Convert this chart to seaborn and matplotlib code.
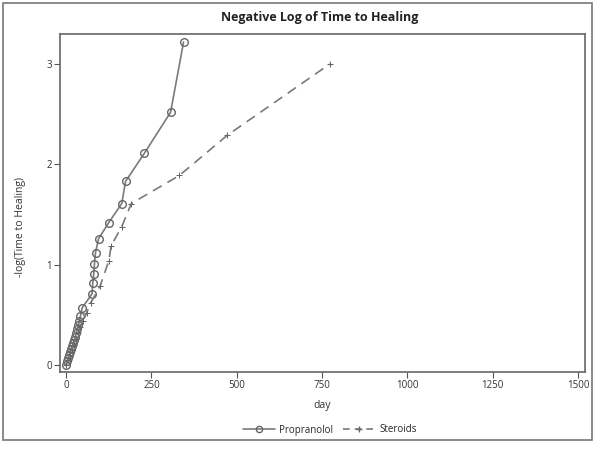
import matplotlib
matplotlib.use("Agg")
import matplotlib.pyplot as plt
import seaborn as sns
import pandas as pd
from matplotlib.patches import Rectangle
from matplotlib.lines import Line2D

sns.set_theme(style="white")
plt.rcParams['font.family'] = ['Open Sans', 'DejaVu Sans']

prop_day = [0, 3, 6, 9, 12, 15, 18, 21, 24, 27, 30, 33, 36, 39, 42, 47,
            76, 78, 81, 83, 86, 95, 125, 163, 174, 229, 306, 344]
prop_val = [0.0, 0.04, 0.07, 0.10, 0.13, 0.16, 0.19, 0.22, 0.25, 0.28, 0.32, 0.36, 0.40, 0.44, 0.49, 0.57,
            0.71, 0.82, 0.91, 1.01, 1.12, 1.26, 1.42, 1.61, 1.83, 2.11, 2.52, 3.22]

ster_day = [0, 5, 10, 16, 22, 28, 35, 42, 50, 60, 72, 100, 125, 132, 163, 191, 332, 472, 772]
ster_val = [0.0, 0.05, 0.10, 0.15, 0.20, 0.26, 0.32, 0.38, 0.44, 0.52, 0.62, 0.79, 1.04, 1.19, 1.38, 1.61, 1.89, 2.29, 3.00]

x_ticks = [0, 250, 500, 750, 1000, 1250, 1500]
y_ticks = [0, 1, 2, 3]

df_p = pd.DataFrame({"day": prop_day, "val": prop_val})
df_s = pd.DataFrame({"day": ster_day, "val": ster_val})

fig = plt.figure(figsize=(5.95, 4.5), dpi=100)
fig.patch.set_facecolor("white")
fig.patches.append(Rectangle((3/595, 10/450), 589/595, 437/450, transform=fig.transFigure,
                             fill=False, edgecolor="#777777", linewidth=1.2))
ax = fig.add_axes([60/595, 78/450, 525/595, 338/450])

lc = "#7a7a7a"
sns.lineplot(data=df_p, x="day", y="val", ax=ax, color=lc, linewidth=1.2,
             marker="o", markersize=5.5, markerfacecolor="none", markeredgecolor="#666666",
             markeredgewidth=1.0, sort=False)
sns.lineplot(data=df_s, x="day", y="val", ax=ax, color=lc, linewidth=1.2,
             marker="+", markersize=5, markeredgecolor="#666666", sort=False,
             linestyle=(0, (6, 4)))

ax.set_xlim(-18, 1520)
ax.set_ylim(-0.07, 3.30)
ax.set_xticks(x_ticks)
ax.set_yticks(y_ticks)
ax.tick_params(axis="both", direction="out", length=4, width=0.8, color="#555555",
               labelsize=7, labelcolor="#333333", pad=2)
ax.tick_params(left=True, bottom=True)
for s in ax.spines.values():
    s.set_color("#666666")
    s.set_linewidth(1.2)

ax.set_xlabel("day", fontsize=7.5, color="#333333", labelpad=6)
ax.set_ylabel("-log(Time to Healing)", fontsize=7.5, color="#333333")
ax.yaxis.set_label_coords(-0.065, 0.43)
fig.text(320/595, 1 - 18/450, "Negative Log of Time to Healing", ha="center", va="center",
         fontsize=9, fontweight="bold", color="#222222")

handles = [Line2D([], [], color=lc, linewidth=1.2, marker="o", markersize=4.5,
                  markerfacecolor="none", markeredgecolor="#666666"),
           Line2D([], [], color=lc, linewidth=1.2, marker="+", markersize=5,
                  markeredgecolor="#666666", linestyle=(0, (4, 3)))]
fig.legend(handles, ["Propranolol", "Steroids"], loc="center", bbox_to_anchor=(330/595, 1 - 430/450),
           ncol=2, frameon=False, fontsize=7, handlelength=3.2, columnspacing=1.0,
           handletextpad=0.5, numpoints=1)

fig.savefig("out.png", dpi=100)
